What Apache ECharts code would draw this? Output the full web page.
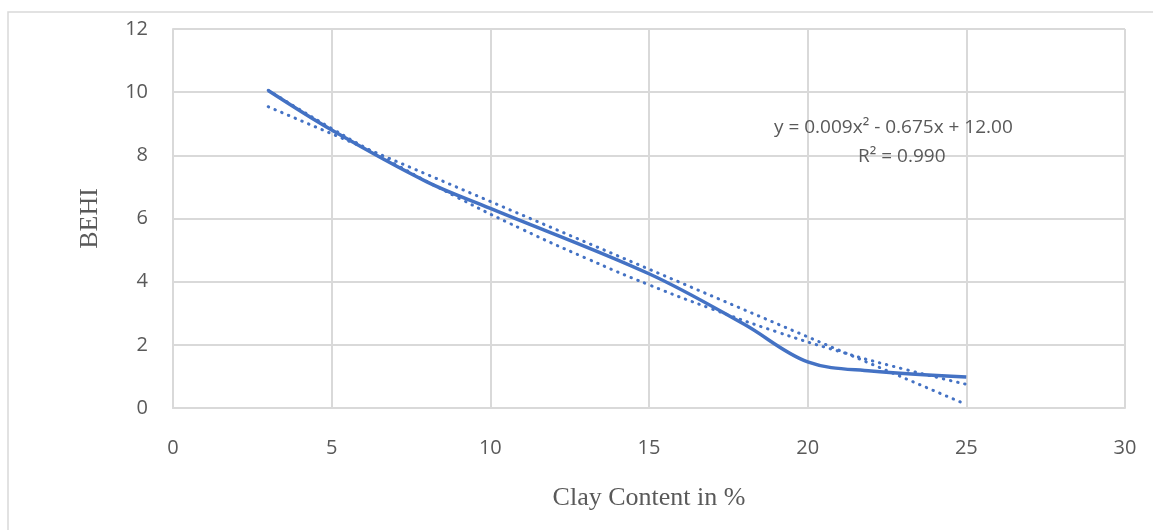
<!DOCTYPE html>
<html>
<head>
<meta charset="utf-8">
<script src="https://cdn.jsdelivr.net/npm/echarts@6/dist/echarts.min.js"></script>
<style>
html,body{margin:0;padding:0;background:#fff;}
#chart{width:1153px;height:530px;}
</style>
</head>
<body>
<div id="chart"></div>
<script>
// Measured data (BEHI vs clay content)
const clayX = [3, 5, 8, 10, 15, 18, 20, 22, 25];
const behiY = [10.05, 8.8, 7.16, 6.32, 4.25, 2.65, 1.46, 1.17, 0.98];
// Linear trendline (dotted) end points
const linX = [3, 25];
const linY = [9.54, 0.11];
// Polynomial trendline (dotted) values
const polyX = [3, 5, 7, 9, 11, 13, 15, 17, 19, 21, 23, 25];
const polyY = [10.06, 8.85, 7.72, 6.65, 5.66, 4.75, 3.9, 3.13, 2.42, 1.79, 1.24, 0.75];
// Axis ticks
const xTicks = [0, 5, 10, 15, 20, 25, 30];
const yTicks = [0, 2, 4, 6, 8, 10, 12];
const eqLine1 = 'y = 0.009x\u00B2 - 0.675x + 12.00';
const eqLine2 = 'R\u00B2 = 0.990';

const zip = (a, b) => a.map((v, i) => [v, b[i]]);
const blue = '#4472C4';
const grey = '#595959';
const gridCol = '#d9d9d9';

const chart = echarts.init(document.getElementById('chart'), null, {renderer: 'canvas'});
chart.setOption({
  animation: false,
  backgroundColor: '#fff',
  grid: {left: 173, top: 29, right: 28, bottom: 122, containLabel: false},
  xAxis: {
    type: 'value', min: xTicks[0], max: xTicks[xTicks.length - 1], interval: 5,
    name: 'Clay Content in %', nameLocation: 'middle', nameGap: 77,
    nameTextStyle: {fontFamily: 'Liberation Serif', fontSize: 26, color: grey},
    axisLine: {show: true, lineStyle: {color: gridCol, width: 2}},
    axisTick: {show: false},
    axisLabel: {margin: 30, fontFamily: 'Open Sans', fontSize: 20, color: grey},
    splitLine: {show: true, lineStyle: {color: gridCol, width: 2}}
  },
  yAxis: {
    type: 'value', min: yTicks[0], max: yTicks[yTicks.length - 1], interval: 2,
    name: 'BEHI', nameLocation: 'middle', nameGap: 70, nameRotate: 90,
    nameTextStyle: {fontFamily: 'Liberation Serif', fontSize: 26, color: grey},
    axisLine: {show: true, lineStyle: {color: gridCol, width: 2}},
    axisTick: {show: false},
    axisLabel: {margin: 25, fontFamily: 'Open Sans', fontSize: 20, color: grey},
    splitLine: {show: true, lineStyle: {color: gridCol, width: 2}}
  },
  series: [
    {
      type: 'line', data: zip(clayX, behiY), smooth: 0.35, symbol: 'none',
      lineStyle: {color: blue, width: 3.5}, z: 2
    },
    {
      type: 'line', data: zip(linX, linY), symbol: 'none',
      lineStyle: {color: blue, width: 3, type: [0.5, 6.8], cap: 'round'}, z: 3
    },
    {
      type: 'line', data: zip(polyX, polyY), smooth: true, symbol: 'none',
      lineStyle: {color: blue, width: 3, type: [0.5, 6.8], cap: 'round'}, z: 3
    }
  ],
  graphic: [
    {type: 'polyline', shape: {points: [[8, 530], [8, 12], [1153, 12]]},
     style: {stroke: gridCol, lineWidth: 1.5, fill: null}, silent: true, z: 100},
    {type: 'text', left: 774, top: 118, z: 100,
     style: {text: eqLine1, fontFamily: 'Open Sans', fontSize: 19, fill: grey}},
    {type: 'text', left: 858, top: 147, z: 100,
     style: {text: eqLine2, fontFamily: 'Open Sans', fontSize: 19, fill: grey}}
  ]
});
</script>
</body>
</html>
